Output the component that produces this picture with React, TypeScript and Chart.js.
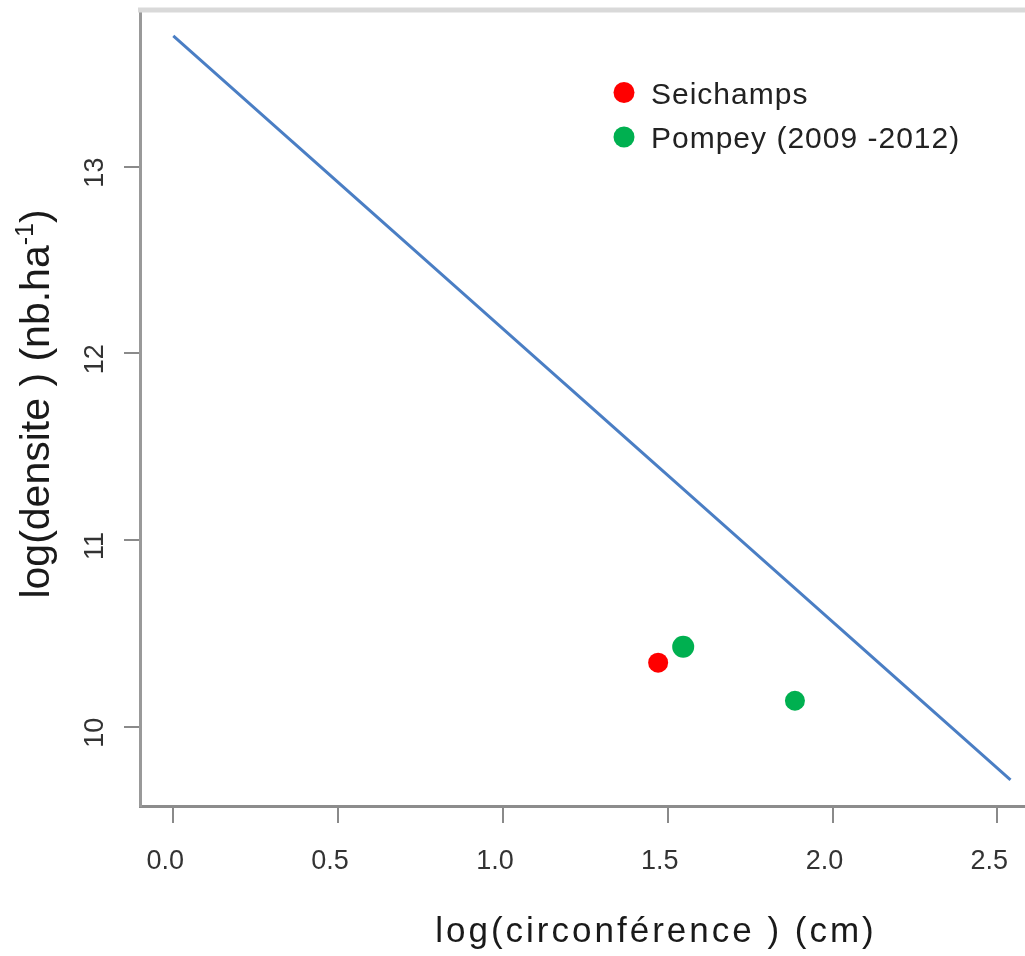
import React, { useEffect, useRef } from 'react';
import { Chart, registerables } from 'chart.js';

Chart.register(...registerables);

// ---- data ----
const lineX = [0, 2.54];
const lineY = [13.70, 9.715];
const seichampsX = [1.471];
const seichampsY = [10.343];
const pompeyX = [1.547, 1.886];
const pompeyY = [10.428, 10.139];

const xTicks = [0, 0.5, 1, 1.5, 2, 2.5];
const xTickLabels = ['0.0', '0.5', '1.0', '1.5', '2.0', '2.5'];
const yTicks = [10, 11, 12, 13];
const yTickLabels = ['10', '11', '12', '13'];

const legendLabels = ['Seichamps', 'Pompey (2009 -2012)'];
const xTitle = 'log(circonférence ) (cm)';
const yTitleMain = 'log(densite ) (nb.ha';
const yTitleSup = '-1';
const yTitleEnd = ')';

const xRange = [-0.101, 2.584];
const yRange = [9.575, 13.839];

const FONT = '"Liberation Sans", Arial, Helvetica, sans-serif';
const LINE_COLOR = '#4a7ec4';
const RED = '#ff0000';
const GREEN = '#00b050';

const decorPlugin = {
  id: 'decor',
  afterDraw(chart: any) {
    const { ctx, chartArea } = chart;
    ctx.save();
    // top frame line (light grey)
    ctx.strokeStyle = '#d9d9d9';
    ctx.lineWidth = 5;
    ctx.beginPath();
    ctx.moveTo(chartArea.left - 2, chartArea.top);
    ctx.lineTo(chart.width, chartArea.top);
    ctx.stroke();

    // legend (inside plot area, top right)
    const legendDs = chart.data.datasets.filter((d: any) => legendLabels.includes(d.label));
    legendDs.forEach((d: any, i: number) => {
      const cy = 92.5 + i * 44.5;
      ctx.fillStyle = d.backgroundColor;
      ctx.beginPath();
      ctx.arc(624, cy, 10.5, 0, Math.PI * 2);
      ctx.fill();
      ctx.fillStyle = '#222';
      ctx.font = `30px ${FONT}`;
      (ctx as any).letterSpacing = '1px';
      ctx.textAlign = 'left';
      ctx.textBaseline = 'alphabetic';
      ctx.fillText(d.label, 651, cy + 11);
      (ctx as any).letterSpacing = '0px';
    });

    // x title
    ctx.fillStyle = '#1a1a1a';
    ctx.font = `35px ${FONT}`;
    (ctx as any).letterSpacing = '3px';
    ctx.textAlign = 'center';
    ctx.textBaseline = 'alphabetic';
    ctx.fillText(xTitle, 656, 942);
    (ctx as any).letterSpacing = '0px';

    // y title (rotated, with superscript)
    const fs = 41;
    const sfs = 25;
    ctx.font = `${fs}px ${FONT}`;
    const w1 = ctx.measureText(yTitleMain).width;
    const w3 = ctx.measureText(yTitleEnd).width;
    ctx.font = `${sfs}px ${FONT}`;
    const w2 = ctx.measureText(yTitleSup).width;
    const total = w1 + w2 + w3;
    ctx.translate(49, 404);
    ctx.rotate(-Math.PI / 2);
    ctx.textAlign = 'left';
    let x0 = -total / 2;
    ctx.font = `${fs}px ${FONT}`;
    ctx.fillText(yTitleMain, x0, 0);
    x0 += w1;
    ctx.font = `${sfs}px ${FONT}`;
    ctx.fillText(yTitleSup, x0, -16);
    x0 += w2;
    ctx.font = `${fs}px ${FONT}`;
    ctx.fillText(yTitleEnd, x0, 0);
    ctx.restore();
  },
};

export default function App() {
  const canvasRef = useRef<HTMLCanvasElement | null>(null);

  useEffect(() => {
    document.body.style.margin = '0';
    const canvas = canvasRef.current;
    if (!canvas) return;

    const chart = new Chart(canvas, {
      type: 'scatter',
      data: {
        datasets: [
          {
            label: 'droite',
            type: 'line',
            data: lineX.map((x, i) => ({ x, y: lineY[i] })),
            borderColor: LINE_COLOR,
            borderWidth: 3,
            pointRadius: 0,
            showLine: true,
            fill: false,
            tension: 0,
          } as any,
          {
            label: legendLabels[0],
            data: seichampsX.map((x, i) => ({ x, y: seichampsY[i] })),
            backgroundColor: RED,
            borderColor: RED,
            borderWidth: 0,
            pointRadius: 10,
          },
          {
            label: legendLabels[1],
            data: pompeyX.map((x, i) => ({ x, y: pompeyY[i] })),
            backgroundColor: GREEN,
            borderColor: GREEN,
            borderWidth: 0,
            pointRadius: [11, 10],
          } as any,
        ],
      },
      options: {
        responsive: false,
        animation: false,
        layout: { autoPadding: false, padding: { top: 10, left: 0, right: 0, bottom: 0 } },
        plugins: {
          legend: { display: false },
          tooltip: { enabled: false },
          title: { display: false },
        },
        scales: {
          x: {
            type: 'linear',
            min: xRange[0],
            max: xRange[1],
            afterBuildTicks: (s: any) => {
              s.ticks = xTicks.map((v) => ({ value: v }));
            },
            afterFit: (s: any) => {
              s.height = 150;
              s.paddingLeft = 0;
              s.paddingRight = 0;
            },
            ticks: {
              autoSkip: false,
              minRotation: 0,
              maxRotation: 0,
              padding: 22,
              labelOffset: -8,
              color: '#333',
              font: { family: FONT, size: 27 },
              callback: (_v: any, i: number) => xTickLabels[i],
            },
            grid: {
              drawOnChartArea: false,
              drawTicks: true,
              tickLength: 17,
              color: '#8a8a8a',
              lineWidth: 2,
            },
            border: { display: true, color: '#8c8c8c', width: 3 },
          },
          y: {
            type: 'linear',
            min: yRange[0],
            max: yRange[1],
            afterBuildTicks: (s: any) => {
              s.ticks = yTicks.map((v) => ({ value: v }));
            },
            afterFit: (s: any) => {
              s.width = 140;
              s.paddingTop = 0;
              s.paddingBottom = 0;
            },
            ticks: {
              autoSkip: false,
              minRotation: 90,
              maxRotation: 90,
              crossAlign: 'center',
              padding: 13,
              labelOffset: 6,
              color: '#333',
              font: { family: FONT, size: 27 },
              callback: (_v: any, i: number) => yTickLabels[i],
            },
            grid: {
              drawOnChartArea: false,
              drawTicks: true,
              tickLength: 16,
              color: '#8a8a8a',
              lineWidth: 2,
            },
            border: { display: true, color: '#999999', width: 3 },
          },
        },
      } as any,
      plugins: [decorPlugin],
    });

    return () => chart.destroy();
  }, []);

  return (
    <div style={{ width: 1025, height: 956, overflow: 'hidden' }}>
      <canvas ref={canvasRef} width={1025} height={956} style={{ display: 'block' }} />
    </div>
  );
}
